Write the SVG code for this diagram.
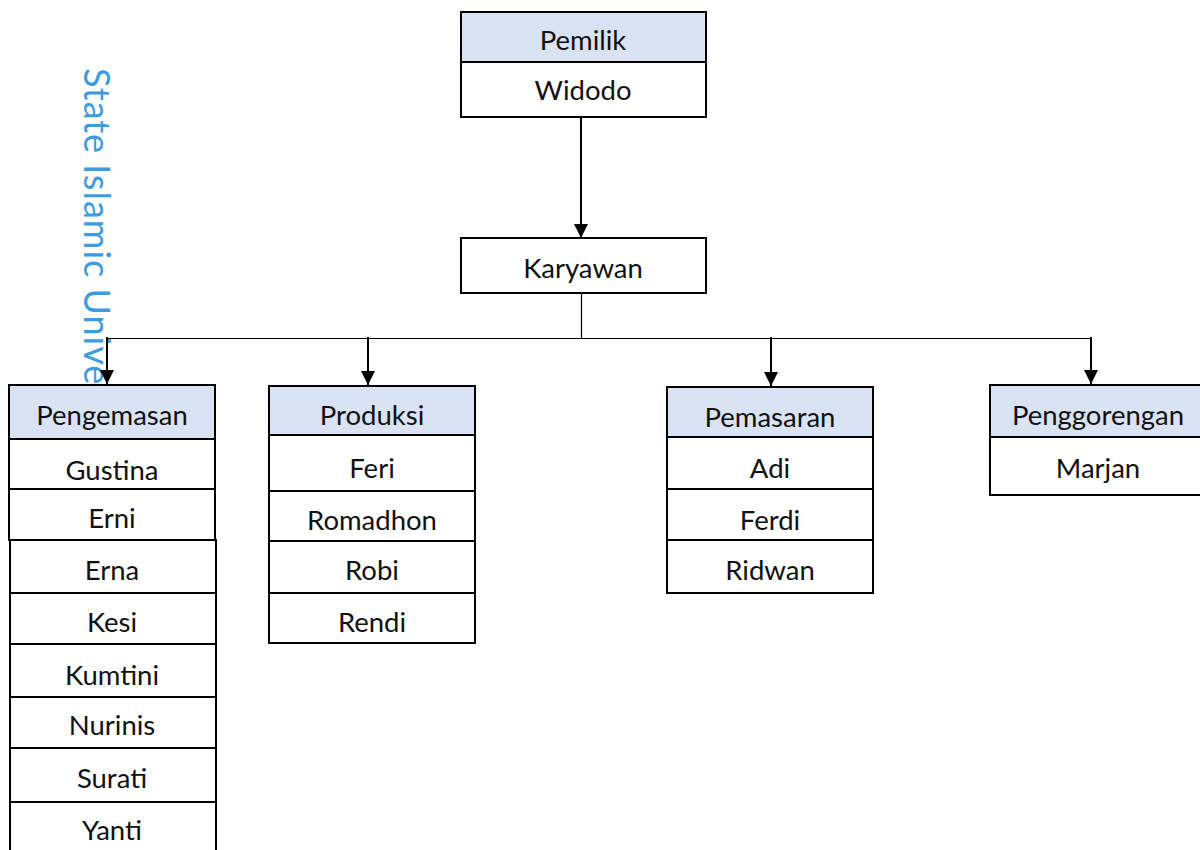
<svg xmlns="http://www.w3.org/2000/svg" width="1200" height="850" viewBox="0 0 1200 850">
<style>
.box{fill:#ffffff;stroke:#000;stroke-width:2}
.hdr{fill:#dae3f3;stroke:#000;stroke-width:2}
.t{font-family:Lato,"Liberation Sans",sans-serif;font-size:27.5px;fill:#111;text-anchor:middle}
.wm{font-family:Lato,"DejaVu Sans",sans-serif;font-weight:400;font-size:36px;letter-spacing:1px;fill:#3d9be0}
.thin{stroke:#000;stroke-width:1.2;fill:none}
.arr{stroke:#000;stroke-width:2;fill:none;marker-end:url(#ah)}
</style>
<defs>
<marker id="ah" viewBox="0 0 14 14" markerWidth="14" markerHeight="14" refX="14" refY="7" orient="auto" markerUnits="userSpaceOnUse">
<path d="M0,0 L14,7 L0,14 Z" fill="#000"/>
</marker>
</defs>
<rect width="1200" height="850" fill="#fff"/>
<text class="wm" transform="translate(84,68) rotate(90)">State Islamic Univer</text>

<g id="connectors">
<line class="arr" x1="581" y1="117" x2="581" y2="238"/>
<line class="thin" x1="581.5" y1="293" x2="581.5" y2="338"/>
<line class="thin" x1="107" y1="338.5" x2="1091" y2="338.5"/>
<line class="arr" x1="107" y1="337" x2="107" y2="384"/>
<line class="arr" x1="368" y1="337" x2="368" y2="385"/>
<line class="arr" x1="771" y1="337" x2="771" y2="386"/>
<line class="arr" x1="1091" y1="337" x2="1091" y2="384"/>
</g>

<g id="pemilik">
<rect class="hdr" x="461" y="12" width="245" height="50"/>
<rect class="box" x="461" y="62" width="245" height="55"/>
<text class="t" x="583" y="50">Pemilik</text>
<text class="t" x="583" y="100">Widodo</text>
</g>

<g id="karyawan">
<rect class="box" x="461" y="238" width="245" height="55"/>
<text class="t" x="583" y="278">Karyawan</text>
</g>

<g id="pengemasan">
<rect class="hdr" x="9" y="385" width="206" height="54"/>
<rect class="box" x="9" y="439" width="206" height="50"/>
<rect class="box" x="9" y="489" width="206" height="51"/>
<rect class="box" x="10" y="540" width="206" height="53"/>
<rect class="box" x="10" y="593" width="206" height="51"/>
<rect class="box" x="10" y="644" width="206" height="53"/>
<rect class="box" x="10" y="697" width="206" height="51"/>
<rect class="box" x="10" y="748" width="206" height="54"/>
<rect class="box" x="10" y="802" width="206" height="60"/>
<text class="t" x="112" y="425">Pengemasan</text>
<text class="t" x="112" y="480">Gustina</text>
<text class="t" x="112" y="528">Erni</text>
<text class="t" x="112" y="580">Erna</text>
<text class="t" x="112" y="632">Kesi</text>
<text class="t" x="112" y="685">Kumtini</text>
<text class="t" x="112" y="735">Nurinis</text>
<text class="t" x="112" y="788">Surati</text>
<text class="t" x="112" y="840">Yanti</text>
</g>

<g id="produksi">
<rect class="hdr" x="269" y="386" width="206" height="49"/>
<rect class="box" x="269" y="435" width="206" height="56"/>
<rect class="box" x="269" y="491" width="206" height="50"/>
<rect class="box" x="269" y="541" width="206" height="52"/>
<rect class="box" x="269" y="593" width="206" height="50"/>
<text class="t" x="372" y="425">Produksi</text>
<text class="t" x="372" y="478">Feri</text>
<text class="t" x="372" y="530">Romadhon</text>
<text class="t" x="372" y="580">Robi</text>
<text class="t" x="372" y="632">Rendi</text>
</g>

<g id="pemasaran">
<rect class="hdr" x="667" y="387" width="206" height="50"/>
<rect class="box" x="667" y="437" width="206" height="52"/>
<rect class="box" x="667" y="489" width="206" height="51"/>
<rect class="box" x="667" y="540" width="206" height="53"/>
<text class="t" x="770" y="427">Pemasaran</text>
<text class="t" x="770" y="478">Adi</text>
<text class="t" x="770" y="530">Ferdi</text>
<text class="t" x="770" y="580">Ridwan</text>
</g>

<g id="penggorengan">
<rect class="hdr" x="990" y="385" width="220" height="52"/>
<rect class="box" x="990" y="437" width="220" height="58"/>
<text class="t" x="1098" y="425">Penggorengan</text>
<text class="t" x="1098" y="478">Marjan</text>
</g>
</svg>
